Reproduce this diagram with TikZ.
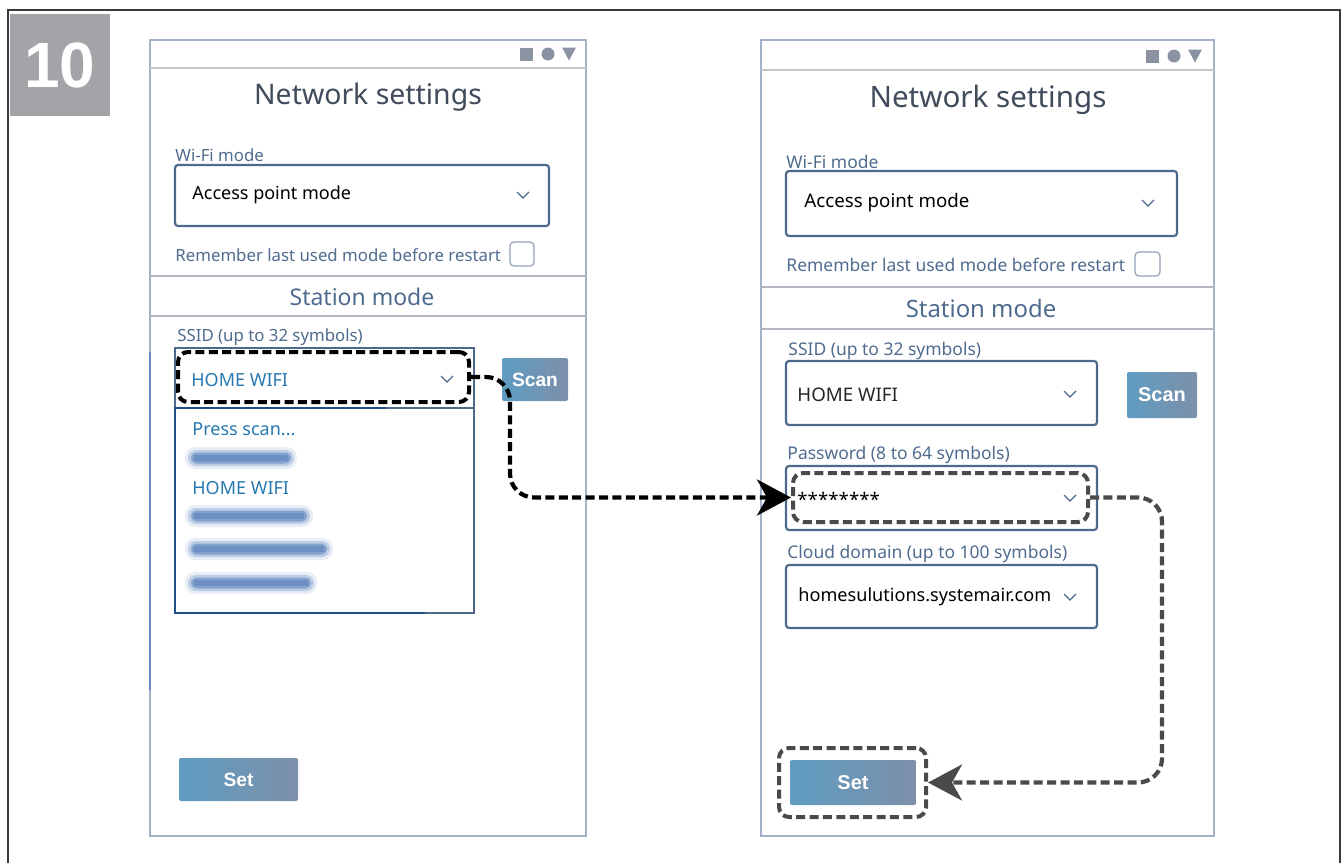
\documentclass[tikz,border=0pt]{standalone}
\usepackage{fontspec}
\setmainfont{Noto Sans}
\newfontfamily\badgefont[UprightFont={Liberation Sans Bold}]{Liberation Sans}
\usetikzlibrary{arrows.meta,fit}

\definecolor{framegray}{HTML}{3A3A3A}
\definecolor{badgegray}{HTML}{A3A4A8}
\definecolor{phoneedge}{HTML}{A3B2C9}
\definecolor{barline}{HTML}{C6C6C6}
\definecolor{sepline}{HTML}{B3B6BE}
\definecolor{titleink}{HTML}{404B5B}
\definecolor{labelink}{HTML}{4F6B8E}
\definecolor{fieldedge}{HTML}{4D6A8C}
\definecolor{listedge}{HTML}{1F4F86}
\definecolor{wifiblue}{HTML}{2678B1}
\definecolor{btnleft}{HTML}{5E9CC1}
\definecolor{btnright}{HTML}{7D90A9}
\definecolor{iconink}{HTML}{8B93A2}
\definecolor{blurbar}{HTML}{3F6DB2}
\definecolor{flowgray}{HTML}{4A4A4A}

% small "v" of a drop-down field
\newcommand{\chevron}[2]{\draw[chev] (#1,#2) ++(-6,-3) -- ++(6,6) -- ++(6,-6);}
% square, dot and triangle in the top bar
\newcommand{\staticons}[2]{%
  \fill[iconink] (#1,#2-6.5) rectangle ++(13,13);
  \fill[iconink] (#1+28,#2) circle (6.5);
  \fill[iconink] (#1+42,#2-6.5) -- ++(14,0) -- ++(-7,13) -- cycle;}

\tikzset{
  phone/.style={draw=phoneedge, line width=0.7pt},
  topbar/.style={draw=barline, line width=1.2pt},
  sepbar/.style={draw=sepline, line width=1.1pt},
  heading/.style={font=\fontsize{14.2}{17}\selectfont, text=titleink},
  section/.style={font=\fontsize{11.5}{14}\selectfont, text=labelink},
  lbl/.style={font=\fontsize{8.4}{10}\selectfont, text=labelink, anchor=west, inner sep=0pt},
  val/.style={font=\fontsize{9}{11}\selectfont, text=black, anchor=west, inner sep=0pt},
  listitem/.style={val, text=wifiblue},
  field/.style={draw=fieldedge, line width=1.1pt, rounded corners=1.5pt, inner sep=0pt},
  tick/.style={draw=phoneedge!90!black, line width=0.6pt, rounded corners=2pt, inner sep=0pt},
  btn/.style={left color=btnleft, right color=btnright, rounded corners=1pt, inner sep=0pt},
  btntext/.style={text=white, font=\badgefont\fontsize{9.6}{11}\selectfont},
  hilite/.style={draw, line width=2pt, dash pattern=on 4.5pt off 2.2pt, rounded corners=5pt, inner sep=0pt},
  chev/.style={draw=fieldedge, line width=0.6pt},
  flow/.style={line width=2.1pt, dash pattern=on 4.5pt off 2.2pt, rounded corners=12pt,
    -{Stealth[length=17pt, width=18pt, inset=5pt]}},
}

\begin{document}
\begin{tikzpicture}[x=0.5pt, y=-0.5pt]
\useasboundingbox (0,0) rectangle (1342,862);

% outer frame and step number
\draw[framegray, line width=0.8pt] (8,870) -- (8,10) -- (1340,10) -- (1340,870);
\node[fill=badgegray, fit={(10,14) (110,116)}, inner sep=0pt] (badge) {};
\node[text=white, font=\badgefont\fontsize{32}{32}\selectfont] (stepno) at (badge.center) {10};

%%% left screen
\draw[phone] (150,40) rectangle (586,836);
\draw[topbar] (150,68) -- (586,68);
\staticons{520}{54}
\node[heading] (titleA) at (368,97) {Network settings};
\node[lbl] (wifiA) at (175,155) {Wi-Fi mode};
\node[field, fit={(175,165) (549,226)}] (modeA) {};
\node[val] (apA) at (192,195) {Access point mode};
\chevron{523}{195}
\node[lbl] (rememberA) at (175,255) {Remember last used mode before restart};
\node[tick, fit={(510,242) (534,266)}] (checkA) {};
\draw[sepbar] (150,276) -- (586,276);
\node[section] (stationA) at (362,297) {Station mode};
\draw[sepbar] (150,316) -- (586,316);
\draw[blurbar!80, line width=1.1pt] (150,352) -- (150,690);
\node[lbl] (ssidA) at (177,337) {SSID (up to 32 symbols)};
\node[field, rounded corners=0pt, fit={(175,348) (474,408)}] (ssidboxA) {};
\node[field, rounded corners=0pt, fit={(175,408) (474,613)}] (listA) {};
\draw[listedge, line width=1.3pt] (386,408) -- (175,408) -- (175,613) -- (425,613);
\node[hilite, fit={(178,352) (469,402)}] (ssidsel) {};
\node[listitem] (homeA) at (191,380) {HOME WIFI};
\chevron{447}{379}
\node[listitem] (pressA) at (192,429) {Press scan...};
\node[listitem] (homeB) at (192,488) {HOME WIFI};
\foreach \yy/\ww in {458/100, 516/116, 549/136, 583/120} {
  \fill[blurbar, opacity=0.12, rounded corners=5pt] (185,\yy-11) rectangle (197+\ww,\yy+11);
  \fill[blurbar, opacity=0.25, rounded corners=4pt] (188,\yy-8) rectangle (194+\ww,\yy+8);
  \fill[blurbar, opacity=0.45, rounded corners=3pt] (191,\yy-5.5) rectangle (191+\ww,\yy+5.5);
  \fill[blurbar, opacity=0.35] (194,\yy-3) rectangle (188+\ww,\yy+3);
}
\node[btn, fit={(502,358) (568,401)}] (scanA) {};
\node[btntext] at (scanA.center) {Scan};
\node[btn, fit={(179,758) (298,801)}] (setA) {};
\node[btntext] at (setA.center) {Set};

%%% right screen
\begin{scope}[heading/.append style={scale=1.04}, section/.append style={scale=1.04},
  lbl/.append style={scale=1.04}, val/.append style={scale=1.04}]
\draw[phone] (761,40) rectangle (1214,836);
\draw[topbar] (761,70) -- (1214,70);
\staticons{1146}{56}
\node[heading] (titleB) at (988,100) {Network settings};
\node[lbl] (wifiB) at (786,162) {Wi-Fi mode};
\node[field, fit={(786,171) (1177,236)}] (modeB) {};
\node[val] (apB) at (804,203) {Access point mode};
\chevron{1148}{203}
\node[lbl] (rememberB) at (786,265) {Remember last used mode before restart};
\node[tick, fit={(1135,252) (1160,276)}] (checkB) {};
\draw[sepbar] (761,287) -- (1214,287);
\node[section] (stationB) at (981,309) {Station mode};
\draw[sepbar] (761,329) -- (1214,329);
\node[lbl] (ssidB) at (788,351) {SSID (up to 32 symbols)};
\node[field, fit={(786,361) (1097,425)}] (ssidboxB) {};
\node[val, text=black!85] (homeC) at (797,395) {HOME WIFI};
\chevron{1070}{394}
\node[btn, fit={(1127,372) (1197,418)}] (scanB) {};
\node[btntext, scale=1.04] at (scanB.center) {Scan};
\node[lbl] (pwB) at (787,455) {Password (8 to 64 symbols)};
\node[field, fit={(786,466) (1097,530)}] (pwboxB) {};
\node[hilite, draw=flowgray, fit={(793,473) (1088,522)}] (pwsel) {};
\node[val] (starsB) at (797,499) {********};
\chevron{1070}{498}
\node[lbl] (cloudB) at (787,554) {Cloud domain (up to 100 symbols)};
\node[field, fit={(786,565) (1097,628)}] (cloudboxB) {};
\node[val, font=\fontsize{8.7}{11}\selectfont] (domainB) at (798,597) {homesulutions.systemair.com};
\chevron{1070}{597}
\node[btn, fit={(790,760) (916,805)}] (setB) {};
\node[btntext, scale=1.04] at (setB.center) {Set};
\node[hilite, draw=flowgray, fit={(779,748) (926,817)}] (setsel) {};
\end{scope}

% connectors
\coordinate (bendA) at (510,0);
\coordinate (bendB) at (1162,0);
\draw[flow, black] (ssidsel.east) -| (bendA |- pwsel.west) -- (pwsel.west);
\draw[flow, flowgray] (pwsel.east) -| (bendB |- setsel.east) -- (setsel.east);

\end{tikzpicture}
\end{document}
